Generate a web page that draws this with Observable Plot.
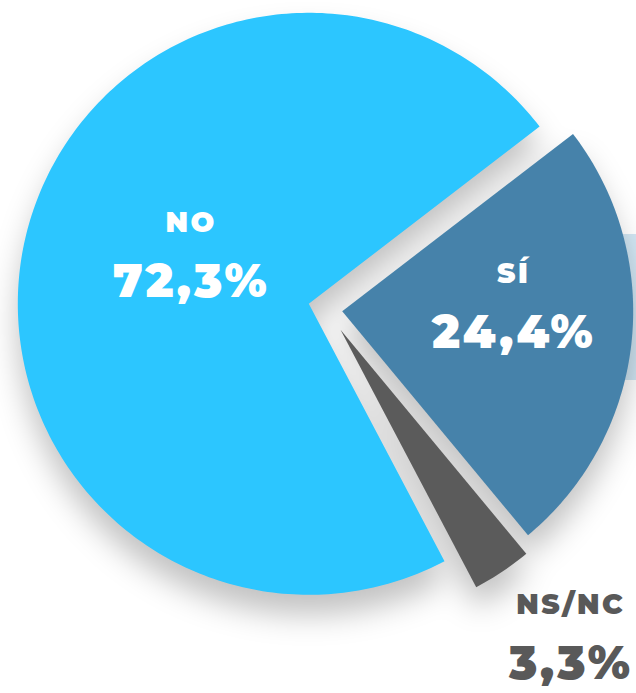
<!DOCTYPE html>
<html><head><meta charset="utf-8">
<script src="https://cdn.jsdelivr.net/npm/d3@7"></script>
<script src="https://cdn.jsdelivr.net/npm/@observablehq/plot@0.6"></script>
<style>
html,body{margin:0;padding:0;background:#fff;}
#wrap{position:relative;width:636px;height:693px;overflow:hidden;}
#band{position:absolute;left:622px;top:234px;width:14px;height:146px;background:#d1e6f3;}
#chart{position:absolute;left:0;top:0;}
</style></head><body>
<div id="wrap"><div id="band"></div><div id="chart"></div></div>
<script>
// ---- data ----
const categories = ["NO", "SÍ", "NS/NC"];
const values = [72.3, 24.4, 3.3];

// ---- style / layout ----
const colors = ["#2cc6ff", "#4682aa", "#5b5b5b"];
const W = 636, H = 693;
const R = 291;
const startDeg = 152.2;
const centers = [[308.3, 303.3], [341.7, 310.7], [340, 329.3]]; // exploded slice centres
const labelK = [0.45, 0.585, 1.33];
const labelNudge = [[9, -23], [1, -26], [14, -17]];
const font = "Montserrat, Inter, 'Open Sans', sans-serif";
const nameSize = 28, pctSize = 46;
const nameLS = 0.09, pctLS = 0.06; // letter spacing (em)

const a0 = startDeg * Math.PI / 180;
const arcs = d3.pie().sort(null).value(d => d).startAngle(a0).endAngle(a0 + 2 * Math.PI)(values);

const rows = [];
const labels = [];
arcs.forEach((a, i) => {
  const [cx, cy] = centers[i];
  const cat = categories[i];
  rows.push({cat, x: cx, y: cy});
  const n = Math.max(4, Math.ceil((a.endAngle - a.startAngle) * 180 / Math.PI));
  for (let k = 0; k <= n; k++) {
    const t = a.startAngle + (a.endAngle - a.startAngle) * k / n;
    rows.push({cat, x: cx + R * Math.sin(t), y: cy - R * Math.cos(t)});
  }
  rows.push({cat, x: cx, y: cy});
  const mid = (a.startAngle + a.endAngle) / 2;
  const bx = cx + labelK[i] * R * Math.sin(mid) + labelNudge[i][0];
  const by = cy - labelK[i] * R * Math.cos(mid) + labelNudge[i][1];
  labels.push({
    cat,
    pct: values[i].toFixed(1).replace(".", ",") + "%",
    x: bx, yName: by - 21, yPct: by + 44,
    inside: labelK[i] < 1
  });
});

const textMarks = (fill) => {
  const sub = labels.filter(d => d.inside === (fill === "white"));
  return [
    Plot.text(sub, {x: "x", y: "yName", text: "cat", fill, fontSize: nameSize, fontWeight: 900, lineAnchor: "bottom", textAnchor: "middle", dx: nameLS * nameSize / 2}),
    Plot.text(sub, {x: "x", y: "yPct", text: "pct", fill, fontSize: pctSize, fontWeight: 900, lineAnchor: "bottom", textAnchor: "middle", dx: pctLS * pctSize / 2})
  ];
};

const plot = Plot.plot({
  width: W, height: H, margin: 0,
  x: {domain: [0, W], axis: null},
  y: {domain: [0, H], reverse: true, axis: null},
  color: {domain: categories, range: colors},
  style: {background: "transparent", fontFamily: font},
  marks: [
    Plot.line(rows, {x: "x", y: "y", z: "cat", fill: "cat", stroke: null, curve: "linear"}),
    ...textMarks("white"),
    ...textMarks("#595959")
  ]
});
document.getElementById("chart").appendChild(plot);

const svg = d3.select(plot);
svg.insert("defs", ":first-child").html(
  '<filter id="sh" x="-30%" y="-30%" width="160%" height="160%" color-interpolation-filters="sRGB">' +
  '<feDropShadow dx="0" dy="20" stdDeviation="15" flood-color="#000" flood-opacity="0.24"/></filter>');
svg.select('g[aria-label="line"]').attr("filter", "url(#sh)");
svg.selectAll(`g[aria-label="text"][font-size="${nameSize}"] text`).style("letter-spacing", nameLS + "em");
svg.selectAll(`g[aria-label="text"][font-size="${pctSize}"] text`).style("letter-spacing", pctLS + "em");
</script>
</body></html>
